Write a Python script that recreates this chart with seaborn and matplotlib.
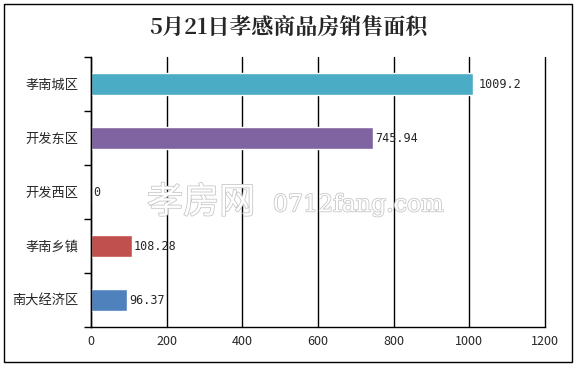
import matplotlib.pyplot as plt
import matplotlib.patheffects as pe
from matplotlib.patches import Rectangle
from matplotlib.ticker import FixedLocator
import seaborn as sns
import pandas as pd

# data
districts = ["孝南城区", "开发东区", "开发西区", "孝南乡镇", "南大经济区"]
areas = [1009.2, 745.94, 0, 108.28, 96.37]
area_labels = ["1009.2", "745.94", "0", "108.28", "96.37"]
bar_colors = ["#4BACC6", "#8064A2", "#9BBB59", "#C0504D", "#4F81BD"]
x_ticks = [0, 200, 400, 600, 800, 1000, 1200]

sns.set_style("white")
plt.rcParams["font.family"] = ["Noto Sans CJK SC", "DejaVu Sans"]

df = pd.DataFrame({"district": districts, "area": areas})

fig = plt.figure(figsize=(5.76, 3.66), dpi=100)
ax = fig.add_axes([91 / 576, 1 - 327 / 366, 454 / 576, 270 / 366])

sns.barplot(data=df, x="area", y="district", hue="district", palette=bar_colors,
            orient="h", width=0.39, legend=False, ax=ax, saturation=1)

ax.set_xlim(0, 1200)
ax.set_ylim(len(districts) - 0.5, -0.5)
ax.xaxis.set_major_locator(FixedLocator(x_ticks))
ax.grid(axis="x", color="black", linewidth=1)
for gl in ax.get_xgridlines():
    gl.set_clip_on(False)
ax.set_axisbelow(True)
ax.set_xlabel("")
ax.set_ylabel("")

# category ticks sit between bars
ax.yaxis.set_minor_locator(FixedLocator([i - 0.5 for i in range(len(districts) + 1)]))
ax.tick_params(axis="y", which="major", length=0, pad=9, labelsize=9.5)
ax.tick_params(axis="y", which="minor", length=5, width=1, color="black", left=True)
ax.tick_params(axis="x", length=0, pad=6, labelsize=9)

for side in ["top", "right"]:
    ax.spines[side].set_visible(False)
for side in ["left", "bottom"]:
    ax.spines[side].set_color("black")
    ax.spines[side].set_linewidth(1)

for i, (v, lab) in enumerate(zip(areas, area_labels)):
    gap = 6 if v > 1000 else 2
    ax.text(v + gap * 1200 / 454, i, lab, va="center", ha="left", fontsize=8.5,
            family=["DejaVu Sans Mono"])

# watermark
wm_y = 1 - 203 / 366
ax.text(147 / 576, wm_y, "孝房网", transform=fig.transFigure, fontsize=26,
        color="white", va="center", ha="left",
        path_effects=[pe.withStroke(linewidth=1.2, foreground="#c8c8c8")])
ax.text(273 / 576, wm_y - 0.005, "0712fang.com", transform=fig.transFigure,
        fontsize=17, color="white", va="center", ha="left", family=["DejaVu Serif"],
        path_effects=[pe.withStroke(linewidth=1.2, foreground="#c8c8c8")])

fig.text(0.5, 1 - 28 / 366, "5月21日孝感商品房销售面积", ha="center", va="center",
         fontsize=15.8, fontweight="bold", family=["Noto Serif CJK SC", "Noto Sans CJK SC"])

fig.patches.append(Rectangle((4 / 576, 4 / 366), 568 / 576, 358 / 366,
                             transform=fig.transFigure, fill=False,
                             edgecolor="black", linewidth=1))

fig.savefig("out.png", dpi=100)
